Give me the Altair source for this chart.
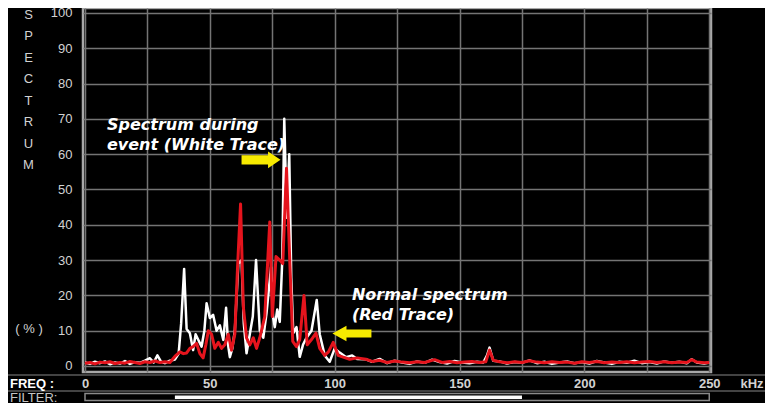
import altair as alt
import pandas as pd

# ---- data ----
white_khz = [0, 2, 4, 6, 8, 10, 12, 14, 16, 18, 20, 22, 24, 26, 27.5, 29, 30.5, 32, 34, 36,
             37.5, 38.5, 39.7, 40.7, 42, 43.3, 44.3, 45.3, 46.7, 47.8, 48.7, 50, 51.3, 52.7,
             54, 55.4, 56.5, 57.3, 58, 59, 60, 61.4, 62.7, 63.6, 64.7, 66, 67.2, 68.5, 70,
             71.4, 72.7, 74.5, 75.3, 76, 77, 78, 79, 79.8, 80.8, 81.8, 82.6, 83.4, 84.7, 86,
             87.3, 88.7, 90.7, 92.8, 94, 96, 98, 100, 102, 104.6, 107, 109, 112.5,
             115, 118, 121, 124, 127, 130, 133, 136, 139, 142, 145, 148, 151, 154, 157,
             159.5, 161, 162, 163.5, 166, 169, 172, 175, 178, 181, 184, 187, 190, 193, 196,
             199, 202, 205, 208, 211, 214, 217, 220, 223, 226, 229, 232, 235, 238, 241, 243,
             245, 248, 250]
white_pct = [1.0, 0.6, 1.2, 0.8, 1.3, 0.5, 1.0, 0.7, 1.4, 0.6, 1.1, 0.9, 1.5, 2.2, 1.0, 3.0, 1.2, 0.8, 1.5, 1.8,
             3.5, 12, 27.5, 10.5, 9.3, 4.5, 9.0, 7.5, 5.5, 10, 17.8, 13.6, 14.5, 10,
             11.5, 7.4, 16.5, 6, 2.5, 5, 10, 29, 30, 12, 3.6, 9, 14, 30, 10,
             8, 15, 28, 14, 11, 16, 12.5, 30, 70, 42, 60, 25, 9.3, 11, 2.6,
             6, 8, 10, 18.7, 9, 3, 1.2, 5, 3.8, 2.5, 3, 2, 1.9,
             1.2, 2.0, 0.8, 1.5, 1.0, 0.6, 1.3, 0.9, 1.8, 1.1, 0.7, 1.4, 1.0, 0.8, 1.2,
             1.0, 3.0, 5.2, 1.5, 1.3, 0.7, 1.1, 0.9, 1.6, 0.8, 1.2, 0.6, 1.0, 1.3, 0.8,
             1.1, 0.7, 1.4, 1.0, 0.6, 1.2, 0.9, 1.5, 0.8, 1.1, 0.7, 1.3, 0.9, 1.2, 0.8, 1.9,
             1.0, 0.7, 1.0]

red_khz = [0, 2, 4, 6, 8, 10, 12, 14, 16, 18, 20, 22, 24, 26, 28, 30, 32, 34, 36, 38,
           39.4, 40.7, 42, 43.3, 44.7, 46, 47.3, 48.4, 49.4, 50.7, 52, 53.4, 54.7, 56, 57.4,
           58.7, 60, 61.1, 62.3, 63.4, 64.7, 66, 67.4, 68.7, 70, 72, 74, 75, 76.5, 78, 79.2,
           80.7, 82.1, 83.2, 84.7, 86, 87.7, 89, 90.7, 92.5, 94, 96, 97.5, 99.4, 101.4,
           103.4, 106, 109, 112.5, 115, 118, 121, 124, 127, 130, 133, 136, 140, 143, 146,
           149, 152, 155, 158, 160.5, 162, 163.5, 166, 169, 172, 175, 178, 181, 184, 187,
           190, 193, 196, 199, 202, 205, 208, 211, 214, 217, 220, 223, 226, 229, 232, 235,
           238, 241, 243, 245, 248, 250]
red_pct = [0.8, 1.0, 0.6, 1.1, 0.9, 1.2, 0.7, 1.0, 0.8, 1.3, 1.0, 0.7, 1.2, 1.0, 1.4, 1.0, 1.2, 1.0, 2.7, 4.0,
           3.5, 3.7, 5, 5.5, 6.4, 3.5, 2.3, 6, 10, 9, 5, 6.7, 5, 6, 9,
           4.5, 9, 28, 45.9, 16.8, 8, 6, 8, 5, 8, 14, 40.8, 14, 31, 30, 29,
           56, 28, 7, 5.5, 7.5, 20, 6, 7.5, 9.3, 5, 3, 4, 6.7, 3,
           2.5, 1.9, 2.3, 1.9, 1.3, 1.6, 1.0, 1.4, 1.1, 0.9, 1.2, 1.0, 1.8, 1.0, 1.3,
           0.9, 1.1, 1.3, 1.0, 1.2, 4.5, 1.6, 1.2, 0.9, 1.2, 1.0, 1.5, 1.1, 0.9, 1.2,
           1.0, 1.1, 0.8, 1.2, 1.0, 1.3, 0.9, 1.1, 1.0, 1.2, 0.9, 1.1, 1.3, 1.0, 1.2, 0.9,
           1.1, 1.0, 1.8, 1.1, 0.9, 1.0]

x_grid = [0, 25, 50, 75, 100, 125, 150, 175, 200, 225, 250]
y_ticks = [0, 10, 20, 30, 40, 50, 60, 70, 80, 90, 100]

note_text = ["Spectrum during", "event (White Trace)", "Normal spectrum", "(Red Trace)"]
note_khz = [8.8, 8.8, 106.9, 106.9]
note_pct = [66.9, 61.2, 18.7, 13.0]

arrow_khz = [70.5, 106.9]
arrow_pct = [58.4, 9.2]
arrow_dir = ["right", "left"]

filter_lo = [36]
filter_hi = [175]

# ---- chart ----
W, H = 628, 364
LABEL = "#d2d2d2"
xs = alt.Scale(domain=[-0.8, 250.7], nice=False, zero=False)
ys = alt.Scale(domain=[-1.7, 101.4], nice=False, zero=False)

x_axis = alt.Axis(
    values=x_grid, labelExpr="datum.value % 50 == 0 ? datum.label : ''",
    grid=True, gridColor="#747474", gridWidth=1.5, domain=False, ticks=False,
    labelColor=LABEL, labelFont="Liberation Sans", labelFontSize=13, labelFontWeight="bold",
    labelPadding=5, title=None)
y_axis = alt.Axis(
    values=y_ticks, grid=True, gridColor="#747474", gridWidth=1.5, domain=False, ticks=False,
    labelColor=LABEL, labelFont="Liberation Sans", labelFontSize=13, labelPadding=11,
    title=["S", "P", "E", "C", "T", "R", "U", "M"], titleAngle=0, titleX=-55, titleY=0,
    titleAlign="center", titleBaseline="top", titleLineHeight=21.5,
    titleFont="Liberation Sans", titleFontSize=13, titleFontWeight="normal", titleColor=LABEL)


def X(field):
    return alt.X(field, scale=xs, axis=x_axis)


def Y(field):
    return alt.Y(field, scale=ys, axis=y_axis)


white_df = pd.DataFrame({"khz": white_khz, "pct": white_pct})
red_df = pd.DataFrame({"khz": red_khz, "pct": red_pct})
notes_df = pd.DataFrame({"khz": note_khz, "pct": note_pct, "t": note_text})
arrows_df = pd.DataFrame({"khz": arrow_khz, "pct": arrow_pct, "dir": arrow_dir})
filter_df = pd.DataFrame({"khz": [0], "khz_end": [250], "lo": filter_lo, "hi": filter_hi})

white = alt.Chart(white_df).mark_line(color="#ffffff", strokeWidth=2.5, strokeJoin="round").encode(
    x=X("khz:Q"), y=Y("pct:Q"))

red = alt.Chart(red_df).mark_line(color="#e5141d", strokeWidth=3, strokeJoin="round").encode(
    x=X("khz:Q"), y=Y("pct:Q"))

notes = alt.Chart(notes_df).mark_text(
    align="left", baseline="alphabetic", color="#ffffff", fill="#ffffff", font="DejaVu Sans",
    fontSize=16, fontWeight="bold", fontStyle="italic"
).encode(x=X("khz:Q"), y=Y("pct:Q"), text="t:N")

right_arrow = "M-1,-0.24 L0.36,-0.24 L0.36,-0.43 L1,0 L0.36,0.43 L0.36,0.24 L-1,0.24 Z"
left_arrow = "M1,-0.2 L-0.28,-0.2 L-0.28,-0.4 L-1,0 L-0.28,0.4 L-0.28,0.2 L1,0.2 Z"
arrows = alt.Chart(arrows_df).mark_point(filled=True, color="#f7ea00", opacity=1, size=1521, strokeWidth=0).encode(
    x=X("khz:Q"), y=Y("pct:Q"),
    shape=alt.Shape("dir:N", scale=alt.Scale(domain=["right", "left"], range=[right_arrow, left_arrow]), legend=None),
)

sep1 = alt.Chart(filter_df).mark_rule(color="#5a5a5a", strokeWidth=1.5).encode(
    x=alt.value(-75), x2=alt.value(W + 54), y=alt.value(367))
sep2 = alt.Chart(filter_df).mark_rule(color="#5a5a5a", strokeWidth=1.5).encode(
    x=alt.value(-75), x2=alt.value(W + 54), y=alt.value(383))

filter_box = alt.Chart(filter_df).mark_rect(fill="#000000", stroke="#8a8a8a", strokeWidth=1.5).encode(
    x=X("khz:Q"), x2="khz_end:Q", y=alt.value(385.5), y2=alt.value(392.5))
filter_bar = alt.Chart(filter_df).mark_rect(fill="#ffffff", color="#ffffff").encode(
    x=X("lo:Q"), x2="hi:Q", y=alt.value(387.5), y2=alt.value(391))


def label(text, x, y, color, size, weight="normal", align="left"):
    return alt.Chart(pd.DataFrame({"t": [text]})).mark_text(
        align=align, baseline="middle", color=color, fill=color, font="Liberation Sans",
        fontSize=size, fontWeight=weight
    ).encode(x=alt.value(x), y=alt.value(y), text="t:N")


freq_lbl = label("FREQ :", -73, 375.5, "#ffffff", 13, "bold")
filter_lbl = label("FILTER:", -73, 389.5, "#c4c4c4", 13)
khz_lbl = label("kHz", 669, 376, LABEL, 13, "bold", "center")
pct_lbl = label("( % )", -54, 321, LABEL, 13, "normal", "center")

chart = alt.layer(
    white, red, notes, arrows, sep1, sep2, filter_box, filter_bar, freq_lbl, filter_lbl, khz_lbl, pct_lbl
).properties(
    width=W, height=H,
    autosize=alt.AutoSizeParams(type="none"),
    padding={"left": 75, "top": 0, "right": 54, "bottom": 31},
).configure(background="#000000").configure_view(stroke="#a8a8a8", strokeWidth=2.5)

chart.save("out.html", embed_options={"renderer": "svg", "actions": False})
